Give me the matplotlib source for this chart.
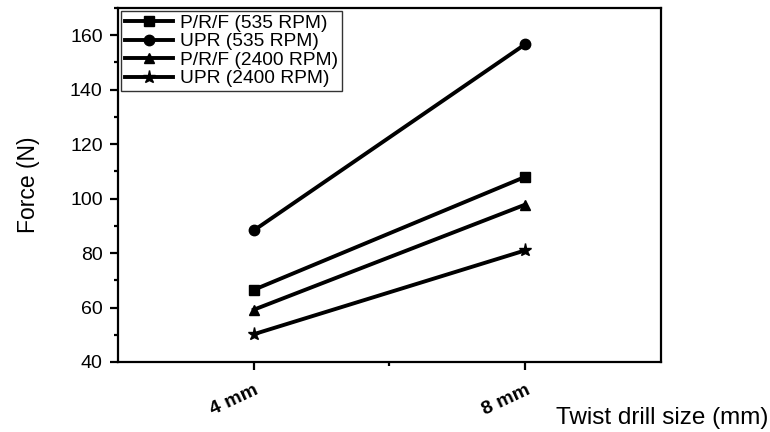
import matplotlib
matplotlib.use("Agg")
import matplotlib.pyplot as plt
from matplotlib.ticker import MultipleLocator, FixedLocator

plt.rcParams['font.family'] = ['Liberation Sans', 'DejaVu Sans']

categories = ["4 mm", "8 mm"]
series_names = ["P/R/F (535 RPM)", "UPR (535 RPM)", "P/R/F (2400 RPM)", "UPR (2400 RPM)"]
prf_535 = [66.5, 108]
upr_535 = [88.3, 156.7]
prf_2400 = [59.2, 97.8]
upr_2400 = [50.2, 81]
markers = ["s", "o", "^", "*"]

fig = plt.figure(figsize=(7.7, 4.32), dpi=100)
ax = fig.add_axes([118/770, 1-362/432, (661-118)/770, (362-8)/432])

x = [1, 2]
for vals, name, m in zip([prf_535, upr_535, prf_2400, upr_2400], series_names, markers):
    ax.plot(x, vals, color="black", lw=2.8, marker=m, ms=7.5 if m != "*" else 9.5, label=name)

ax.set_xlim(0.5, 2.5)
ax.set_ylim(40, 170)
ax.set_xticks(x)
ax.set_xticklabels(categories, rotation=25, fontweight="bold", fontsize=14,
                   ha="right", rotation_mode="anchor")
ax.xaxis.set_minor_locator(FixedLocator([1.5]))
ax.yaxis.set_major_locator(MultipleLocator(20))
ax.yaxis.set_minor_locator(MultipleLocator(10))
ax.tick_params(axis="both", which="major", direction="out", length=6, width=1.6, labelsize=14, pad=5)
ax.tick_params(axis="both", which="minor", direction="out", length=3, width=1.6)
ax.tick_params(axis="x", which="major", pad=8, labelsize=14)
for s in ax.spines.values():
    s.set_linewidth(1.6)

ax.set_ylabel("Force (N)", fontsize=16.5)
ax.yaxis.set_label_coords((40-118)/543, 0.5)
fig.text(768/770, 1-418/432, "Twist drill size (mm)", fontsize=17.5, ha="right", va="center")

leg = ax.legend(loc="upper left", fontsize=13.8, frameon=True, fancybox=False,
                edgecolor="black", borderaxespad=0.15, handlelength=2.5,
                borderpad=0.2, labelspacing=0.05, handletextpad=0.4)
leg.get_frame().set_linewidth(1.0)

fig.savefig("out.png", dpi=100)
